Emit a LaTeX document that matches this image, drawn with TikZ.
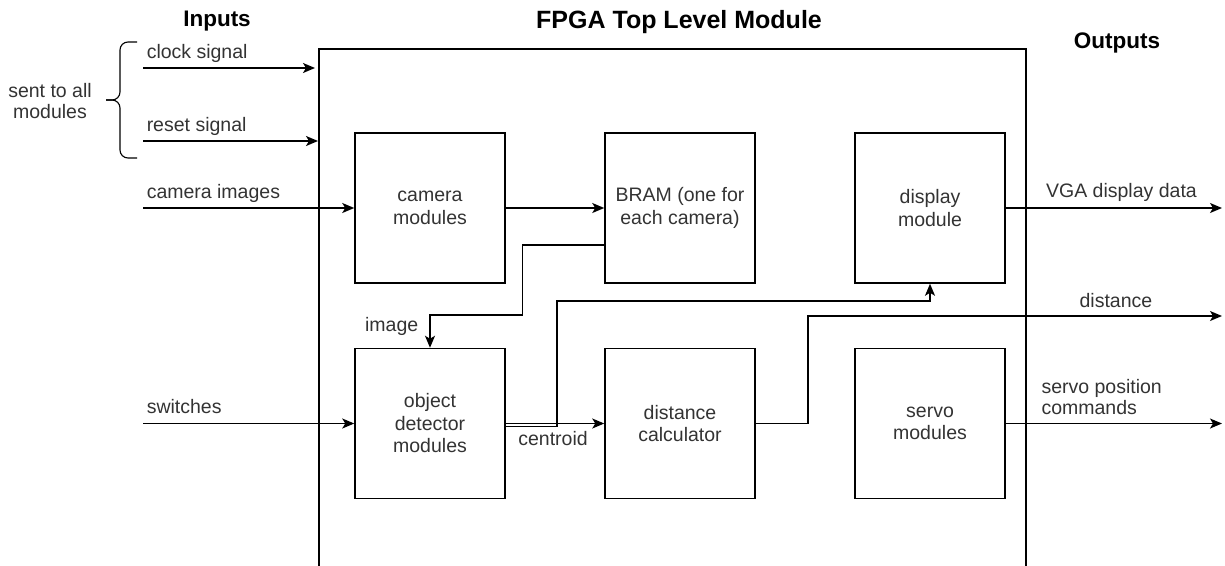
\documentclass[tikz,border=0pt]{standalone}
\usepackage{fontspec}
\setmainfont{Liberation Sans}
\usetikzlibrary{arrows.meta,positioning}
\newcommand{\lbltext}{\fontsize{19.5}{21}\selectfont}
\newcommand{\blocktext}{\fontsize{19.5}{22.5}\selectfont}
\newcommand{\headtext}{\fontsize{22.5}{27}\selectfont\bfseries}
\newcommand{\titletext}{\fontsize{25}{29}\selectfont\bfseries}
\tikzset{
  block/.style={draw, line width=1.5pt, align=center, font=\blocktext,
    text=black!80, minimum width=150pt, minimum height=150pt},
  lbl/.style={font=\lbltext, text=black!80, inner sep=2pt},
  sig/.style={lbl, anchor=base west, xshift=1pt, yshift=10pt},
  heading/.style={font=\headtext},
  arrow/.style={-{Stealth[length=12pt, width=10pt, inset=3pt]}, line width=1.5pt}
}

\begin{document}
\begin{tikzpicture}[x=1pt, y=-1pt, node distance=64pt and 98.5pt]
  \useasboundingbox (0,0) rectangle (1225,565);
  \clip (0,0) rectangle (1225,565);

  % top level module and headings
  \node[draw, line width=1.5pt, anchor=north west, minimum width=707pt,
    minimum height=560pt] (top) at (318,48) {};
  \node[heading, font=\titletext] (toptitle) at (679,22) {FPGA Top Level Module};
  \node[heading] (inputs) at (217,21) {Inputs};
  \node[heading] (outputs) at (1117,43) {Outputs};

  % modules
  \node[block] (cam) at (430,208) {camera\\modules};
  \node[block, right=of cam] (bram) {BRAM (one for\\each camera)};
  \node[block, right=of bram] (disp) {display\\module};
  \node[block, below=of cam] (objdet) {object\\detector\\modules};
  \node[block, right=of objdet] (dist) {distance\\calculator};
  \node[block, right=of dist] (servo) {servo\\modules};

  % free ends
  \coordinate (inx) at (143,0);
  \coordinate (outx) at (1222,0);
  \coordinate (clkin) at (143,68);
  \coordinate (rstin) at (143,141);
  \coordinate (distout) at (1222,316);
  \coordinate (bracetop) at (137,42);
  \coordinate (bracebot) at (137,158);
  \coordinate (bracetip) at (106,100);

  % inputs
  \draw[line width=1.1pt, rounded corners=8pt] (bracetop) -| (120,100) -- (bracetip);
  \draw[line width=1.1pt, rounded corners=8pt] (bracebot) -| (120,100) -- (bracetip);
  \node[lbl, align=center] (allmods) at (50,101) {sent to all\\modules};
  \draw[arrow] (clkin) node[sig] {clock signal} -- ([xshift=-3pt]clkin -| top.west);
  \draw[arrow] (rstin) node[sig] {reset signal} -- (rstin -| top.west);
  \draw[arrow] (cam.west -| inx) node[sig] {camera images} -- (cam.west);
  \draw[arrow] (objdet.west -| inx) node[sig] {switches} -- (objdet.west);

  % internal connections
  \draw[arrow] (cam.east) -- (bram.west);
  \draw[arrow] ([yshift=-37pt]bram.west) -- ++(-82,0)
    |- ([yshift=33pt]objdet.north)
    -- node[lbl, anchor=base east, xshift=-9pt] {image} (objdet.north);
  \draw[arrow] (objdet.east) -- node[lbl, below, pos=0.48, yshift=-5pt] {centroid} (dist.west);
  \draw[arrow] ([yshift=-3pt]objdet.east) -- ++(51,0)
    |- ([yshift=-17pt]disp.south) -- (disp.south);

  % outputs
  \draw[arrow] (disp.east) -- node[lbl, anchor=base, pos=0.535, yshift=11pt] {VGA display data}
    (disp.east -| outx);
  \draw[arrow] (dist.east) -- ++(52,0)
    |- node[lbl, anchor=base, pos=0.872, yshift=9pt] {distance} (distout);
  \draw[arrow] (servo.east) node[lbl, align=left, anchor=south west, xshift=33pt, yshift=6pt]
    {servo position\\commands} -- (servo.east -| outx);
\end{tikzpicture}
\end{document}
